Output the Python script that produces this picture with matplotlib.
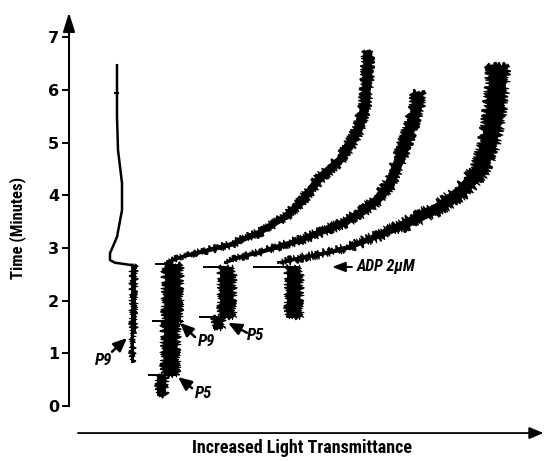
import numpy as np
import matplotlib.pyplot as plt
from matplotlib import font_manager
from matplotlib.patches import Polygon

# look for a condensed face, the figure uses condensed bold lettering
narrow_font = None
narrow_stretch = 'normal'
for pref in ['Liberation Sans Narrow', 'Roboto Condensed', 'Open Sans Condensed',
             'Noto Sans', 'DejaVu Sans', 'Roboto', 'Open Sans']:
    for f in font_manager.fontManager.ttflist:
        st = f.stretch
        cond = (st not in ('normal', 500)) or ('Narrow' in f.name) or ('Condensed' in f.name)
        if f.name == pref and cond:
            narrow_font, narrow_stretch = f.name, st
            break
    if narrow_font:
        break
if narrow_font is None:
    narrow_font = 'Liberation Sans'
plt.rcParams['font.family'] = [narrow_font, 'DejaVu Sans']
plt.rcParams['font.stretch'] = narrow_stretch

# y axis (minutes)
time_ticks = [0, 1, 2, 3, 4, 5, 6, 7]

# transmittance in arbitrary units, time in minutes
# aggregation curves after ADP
curve1_x = [98, 116, 131, 161, 191, 216, 231, 251, 271, 281, 289, 296, 298, 299]
curve1_t = [2.73, 2.85, 2.92, 3.06, 3.30, 3.59, 3.85, 4.33, 4.67, 4.96, 5.24, 5.68, 6.19, 6.72]
curve2_x = [156, 171, 191, 231, 274, 291, 308, 321, 329, 336, 343, 348, 349]
curve2_t = [2.72, 2.83, 2.92, 3.15, 3.47, 3.66, 3.91, 4.23, 4.61, 4.99, 5.37, 5.68, 5.96]
curve3_x = [211, 231, 261, 281, 311, 338, 371, 394, 411, 419, 424, 428, 429]
curve3_t = [2.72, 2.81, 2.92, 3.02, 3.25, 3.47, 3.78, 4.10, 4.48, 4.92, 5.37, 6.00, 6.47]

# first trace (no aggregation), thin line
traceA_x = [64, 61, 46, 41, 41, 48, 53, 53, 49, 48, 48]
traceA_t = [2.68, 2.68, 2.72, 2.77, 2.90, 3.21, 3.72, 4.23, 4.86, 5.49, 6.47]

# baseline segments before ADP
seg_x = [63, 64, 92, 101, 103, 149, 157, 224]
seg_t0 = [0.84, 1.38, 0.21, 0.59, 1.61, 1.48, 1.69, 1.69]
seg_t1 = [1.38, 2.68, 0.59, 1.61, 2.70, 1.69, 2.64, 2.64]

# injection marks (horizontal ticks)
mark_t = [0.59, 1.61, 2.70, 1.69, 2.64, 2.64]
mark_x0 = [79, 83, 86, 130, 134, 184]
mark_x1 = [108, 114, 104, 156, 159, 231]

# P9 / P5 arrows
arrow_labels = ['P9', 'P9', 'P5', 'P5']
tip_x = [58, 111, 109, 159]
tip_t = [1.29, 1.58, 0.55, 1.58]
tail_x = [43, 126, 123, 178]
tail_t = [1.03, 1.31, 0.34, 1.39]
label_x = [35, 138, 135, 187]
label_t = [0.87, 1.22, 0.23, 1.33]

# widths of the noisy traces, pixels
curve1_w = [3, 3.5, 4, 5, 6, 7, 8, 9, 9, 10, 10, 10, 10, 10]
curve2_w = [3, 3.5, 4, 6, 8, 9, 10, 11, 11, 12, 12, 12, 12]
curve3_w = [3, 3.5, 4, 5, 7, 10, 12, 14, 16, 18, 19, 20, 20]
seg_w = [2.5, 4.5, 9, 16, 18, 10, 15, 15]


def band(ax, xs, ts, widths, sketch):
    # noisy trace: solid core plus a sketched outline for the jagged edges
    pts = ax.transData.transform(np.column_stack([xs, ts]))
    d = np.gradient(pts, axis=0)
    n = np.column_stack([-d[:, 1], d[:, 0]])
    n /= np.linalg.norm(n, axis=1)[:, None]
    w = np.asarray(widths, dtype=float)[:, None]
    for frac, sk in [(0.8, None), (1.0, sketch)]:
        hw = w * frac / 2
        poly = np.vstack([pts + n * hw, (pts - n * hw)[::-1]])
        p = Polygon(ax.transData.inverted().transform(poly), closed=True,
                    fc='black', ec='black', lw=0.6)
        if sk:
            p.set_sketch_params(*sk)
        ax.add_patch(p)


fig = plt.figure(figsize=(5.44, 4.61), dpi=100)
ax = fig.add_axes([0, 0, 1, 1])
ax.set_xlim(-69, 475)
ax.set_ylim(-1.044, 7.708)

for s in ['top', 'right', 'bottom']:
    ax.spines[s].set_visible(False)
ax.spines['left'].set_position(('data', 0))
ax.spines['left'].set_bounds(0, 7.3)
ax.spines['left'].set_linewidth(1.5)
ax.set_xticks([])
ax.set_yticks(time_ticks)
ax.tick_params(axis='y', direction='out', length=5, width=1.4, pad=2, labelsize=11.5)
for lbl in ax.get_yticklabels():
    lbl.set_fontweight('bold')
    lbl.set_family('DejaVu Sans')
    lbl.set_fontstretch('normal')

# axis arrows
ax.annotate('', xy=(0, 7.47), xytext=(0, 7.1),
            arrowprops=dict(arrowstyle='-|>,head_length=1.15,head_width=0.36',
                            mutation_scale=10, lw=1.5, color='black',
                            shrinkA=0, shrinkB=0))
ax.annotate('', xy=(474.5, -0.513), xytext=(9, -0.513), annotation_clip=False,
            arrowprops=dict(arrowstyle='-|>,head_length=0.86,head_width=0.36',
                            mutation_scale=10, lw=1.3, color='black',
                            shrinkA=0, shrinkB=0))

ax.set_ylabel('Time (Minutes)', fontsize=12, fontweight='bold')
ax.yaxis.set_label_coords(17.5 / 544, 0.505)
ax.yaxis.label.set_va('center')
ax.text(233, -0.80, 'Increased Light Transmittance', ha='center', va='center',
        fontsize=13, fontweight='bold')

# baseline segments
for x, t0, t1, w in zip(seg_x, seg_t0, seg_t1, seg_w):
    band(ax, [x, x], [t0, t1], [w, w], (2.8, 0.8, 10))

# injection marks
ax.hlines(mark_t, mark_x0, mark_x1, color='black', lw=1.4)

# first trace after ADP
ax.plot(traceA_x, traceA_t, color='black', lw=1.8, solid_joinstyle='round')
ax.hlines([5.94], [45], [50], color='black', lw=1.5)

# aggregation curves
band(ax, curve1_x, curve1_t, curve1_w, (2.2, 0.8, 10))
band(ax, curve2_x, curve2_t, curve2_w, (2.4, 0.8, 10))
band(ax, curve3_x, curve3_t, curve3_w, (3.2, 0.8, 10))

# P9 / P5 markers
for lab, tx, tt, sx, st, lx, lt in zip(arrow_labels, tip_x, tip_t, tail_x, tail_t,
                                       label_x, label_t):
    ax.annotate('', xy=(tx, tt), xytext=(sx, st),
                arrowprops=dict(arrowstyle='-|>,head_length=0.8,head_width=0.35',
                                mutation_scale=10, lw=1.8, color='black',
                                shrinkA=0, shrinkB=0))
    ax.text(lx, lt, lab, ha='center', va='center', fontsize=12,
            fontweight='bold', fontstyle='italic')

ax.annotate('', xy=(263, 2.64), xytext=(283, 2.64),
            arrowprops=dict(arrowstyle='-|>,head_length=0.8,head_width=0.3',
                            mutation_scale=10, lw=1.4, color='black',
                            shrinkA=0, shrinkB=0))
ax.text(288, 2.64, 'ADP 2\u03bcM', ha='left', va='center', fontsize=11.5,
        fontweight='bold', fontstyle='italic')

fig.savefig('out.png', dpi=100)
